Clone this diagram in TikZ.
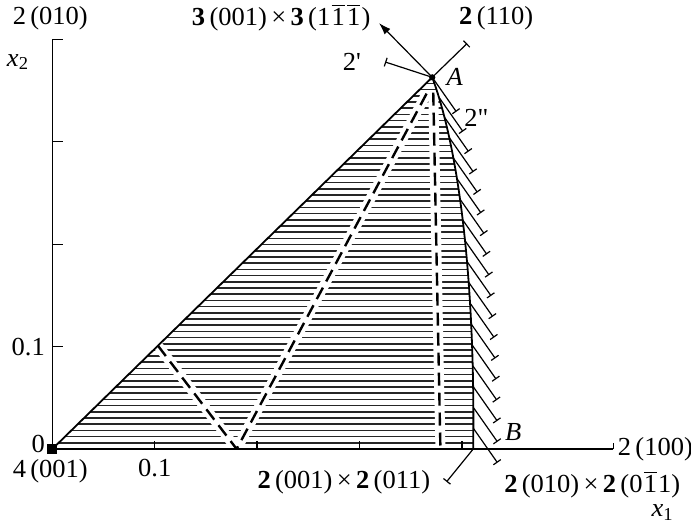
\documentclass[tikz,border=0pt]{standalone}
\usepackage{fontspec}
\setmainfont[FakeStretch=1.02]{Liberation Serif}
\usepackage{tikz}
\usetikzlibrary{arrows.meta, positioning, calc, decorations.markings}

\newcommand{\ovl}[1]{\kern0.6pt$\overline{\mbox{#1}}$\kern0.6pt}

\begin{document}
\begin{tikzpicture}[
    x=1.8cm, y=1.8cm,
    font=\fontsize{13}{15}\selectfont,
    lbl/.style={inner sep=1pt},
    axisline/.style={line width=0.65pt},
    hatchline/.style={line width=0.8pt, black!85},
    gapline/.style={white, line width=5pt},
    dashline/.style={line width=1.2pt, dash pattern=on 6.5pt off 3.5pt},
    barline/.style={line width=0.6pt, -{Bar[width=4.5pt]}},
    boundary/.style={line width=0.9pt}
]
    \useasboundingbox (-0.511,-0.762) rectangle (6.237,4.385);

    % corners of the region
    \coordinate (O) at (0,0);
    \coordinate (A) at (3.71,3.63);
    \coordinate (B) at (4.11,0);
    % ends of the dashed lines
    \coordinate (P) at ($(O)!0.278!(A)$);
    \coordinate (V) at (1.8,0);
    \coordinate (Vtop) at (3.66,3.48);
    \coordinate (Wtop) at (3.72,3.48);
    \coordinate (W) at (3.79,0);

    % hatched region and dashed lines
    \begin{scope}
        \clip (O) -- (A) .. controls (3.98,2.9) and (4.13,1.6) .. (B) -- cycle;
        \foreach \h in {0,0.0605,...,3.7}
            \draw[hatchline] (0,\h) -- (4.3,\h);
        \draw[gapline] (P) -- (V) -- (Vtop);
        \draw[gapline] (Wtop) -- (W);
        \draw[dashline] (P) -- (V) -- (Vtop);
        \draw[dashline] (Wtop) -- (W);
    \end{scope}

    % boundary, ticks on the curved side
    \draw[boundary] (O) -- (A);
    \draw[boundary, postaction={decorate}, decoration={markings,
        mark=between positions 0 and 1 step 0.05555 with {
            \pgftransformresetnontranslations
            \draw[barline] (0,0) -- (-55:0.41);}}]
        (A) .. controls (3.98,2.9) and (4.13,1.6) .. (B);

    % axes
    \coordinate (X1end) at (5.48,0);
    \coordinate (X2end) at (0,4);
    \draw[axisline] (X2end) -- (O) -- (X1end);
    \draw[axisline] (X2end) -- ++(0.1,0);
    \draw[axisline] (X1end) -- ++(0,0.06);
    \foreach \k in {1,2,3,4}
        \draw[axisline] (\k,0) -- (\k,0.08);
    \foreach \k in {1,2,3}
        \draw[axisline] (0,\k) -- (0.1,\k);

    % lines from A and B
    \coordinate (Tarrow) at (3.19,4.16);
    \coordinate (Ttop) at (4.05,3.96);
    \coordinate (Tleft) at (3.25,3.78);
    \coordinate (Tbl) at (3.85,-0.32);
    \draw[line width=0.6pt, -{Latex[length=6pt, width=4pt]}] (A) -- (Tarrow);
    \draw[barline] (A) -- (Ttop);
    \draw[barline] (A) -- (Tleft);
    \draw[barline] (B) -- (Tbl);

    \node[circle, fill, inner sep=1.1pt] (dotA) at (A) {};
    \node[fill, minimum size=5pt, inner sep=0pt] (sq) at (O) {};

    % labels
    \node[lbl] (lbl010) at (-0.02,4.21) {2\,(010)};
    \node[lbl] (lblx2) at (-0.335,3.78) {\textit{x}\textsubscript{2}};
    \node[lbl, anchor=east] (lbl3) at (3.13,4.21)
        {\textbf{3}\,(001)\,×\,\textbf{3}\,(1\ovl{1}\ovl{1})};
    \node[lbl, anchor=west] (lbl110) at (3.95,4.21) {\textbf{2}\,(110)};
    \node[lbl, left=11pt of Tleft] (lbl2p) {2\textquotesingle};
    \node[lbl, right=6pt of A] (lblA) {\textit{A}};
    \node[lbl] (lbl2pp) at (4.14,3.23) {2\textquotedbl};
    \node[lbl] (lblB) at (4.5,0.17) {\textit{B}};
    \node[lbl, right=1pt of X1end] (lbl100) {2\,(100)};
    \node[lbl, left=7pt of Tbl] (lbl011) {\textbf{2}\,(001)\,×\,\textbf{2}\,(011)};
    \node[lbl, anchor=west] (lbl0m11) at (4.39,-0.35)
        {\textbf{2}\,(010)\,×\,\textbf{2}\,(0\ovl{1}1)};
    \node[lbl] (lblx1) at (5.96,-0.62) {\textit{x}\textsubscript{1}};
    \node[lbl, anchor=east] (lbl0) at (-0.05,0.05) {0};
    \node[lbl] (lbl4001) at (-0.02,-0.22) {4\,(001)};
    \node[lbl] (lblx01) at (1,-0.19) {0.1};
    \node[lbl, anchor=east] (lbly01) at (-0.05,1) {0.1};
\end{tikzpicture}
\end{document}
